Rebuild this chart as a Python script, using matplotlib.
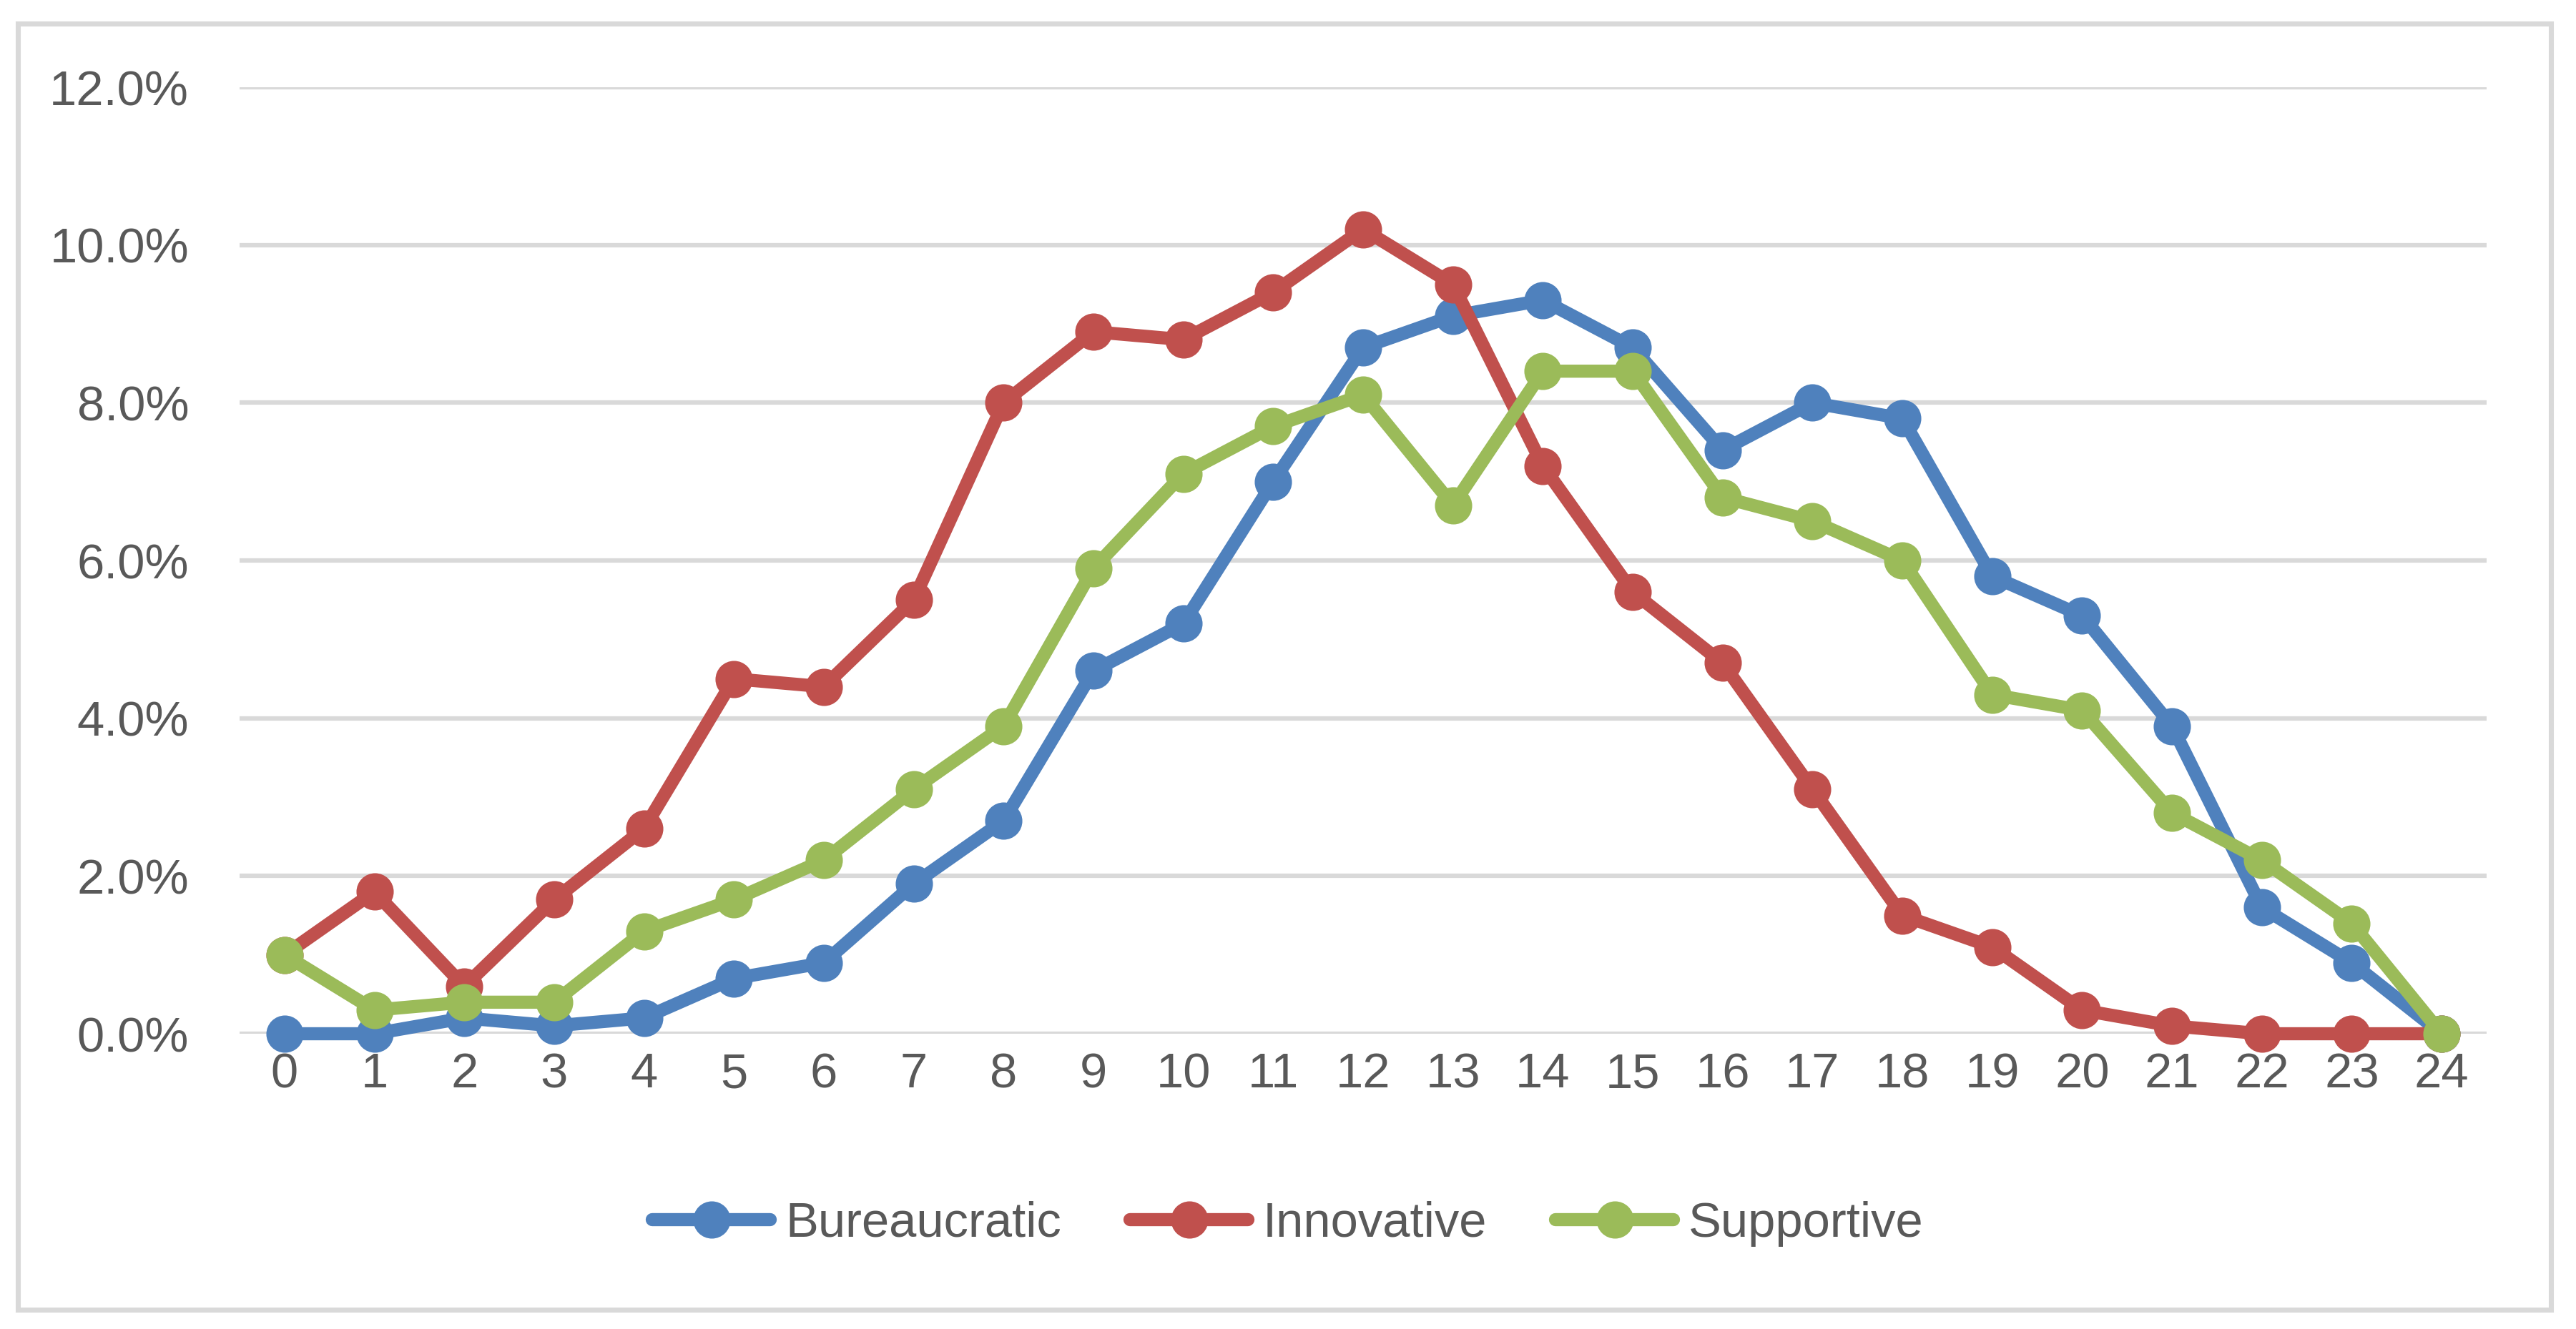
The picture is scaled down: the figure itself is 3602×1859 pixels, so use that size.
import matplotlib.pyplot as plt
from matplotlib.patches import Rectangle
from matplotlib.ticker import FuncFormatter

hours = list(range(25))
bureaucratic = [0.0, 0.0, 0.2, 0.1, 0.2, 0.7, 0.9, 1.9, 2.7, 4.6, 5.2, 7.0, 8.7, 9.1, 9.3,
                8.7, 7.4, 8.0, 7.8, 5.8, 5.3, 3.9, 1.6, 0.9, 0.0]
innovative = [1.0, 1.8, 0.6, 1.7, 2.6, 4.5, 4.4, 5.5, 8.0, 8.9, 8.8, 9.4, 10.2, 9.5, 7.2,
              5.6, 4.7, 3.1, 1.5, 1.1, 0.3, 0.1, 0.0, 0.0, 0.0]
supportive = [1.0, 0.3, 0.4, 0.4, 1.3, 1.7, 2.2, 3.1, 3.9, 5.9, 7.1, 7.7, 8.1, 6.7, 8.4,
              8.4, 6.8, 6.5, 6.0, 4.3, 4.1, 2.8, 2.2, 1.4, 0.0]

series = [("Bureaucratic", bureaucratic, "#4F81BD"),
          ("Innovative", innovative, "#C0504D"),
          ("Supportive", supportive, "#9BBB59")]

plt.rcParams['font.family'] = ['Liberation Sans Narrow', 'Liberation Sans', 'DejaVu Sans']
text_color = "#595959"
grid_color = "#D9D9D9"

W, H = 3602, 1859
fig = plt.figure(figsize=(W / 300, H / 300), dpi=300)
ax = fig.add_axes([335 / W, 1 - 1446 / H, (3477 - 335) / W, (1446 - 122) / H])

for name, vals, color in series:
    ax.plot(hours, [v / 100 for v in vals], color=color, lw=4.4, marker='o',
            markersize=11.5, label=name, clip_on=False, solid_capstyle='round',
            solid_joinstyle='round')

ax.set_xlim(-0.5, 24.5)
ax.set_ylim(0, 0.12)
ax.set_xticks(hours)
ax.set_yticks([i / 100 for i in range(0, 13, 2)])
ax.yaxis.set_major_formatter(FuncFormatter(lambda v, p: f"{v * 100:.1f}%"))
ax.grid(axis='y', color=grid_color, lw=1.5)
ax.set_axisbelow(True)
for s in ax.spines.values():
    s.set_visible(False)
ax.tick_params(length=0, labelsize=16.5, colors=text_color)
ax.tick_params(axis='y', pad=17)
ax.tick_params(axis='x', pad=6)

fig.legend(loc='center', bbox_to_anchor=(0.5, 1 - 1712 / H), ncol=3, frameon=False,
           fontsize=16.5, labelcolor=text_color, handlelength=2.4, handletextpad=0.3,
           columnspacing=1.4)

fig.patches.append(Rectangle((25 / W, 1 - 1832 / H), (3567 - 25) / W, (1832 - 33) / H,
                             transform=fig.transFigure, fill=False,
                             edgecolor=grid_color, lw=1.7))

fig.savefig('out.png', dpi=300)
